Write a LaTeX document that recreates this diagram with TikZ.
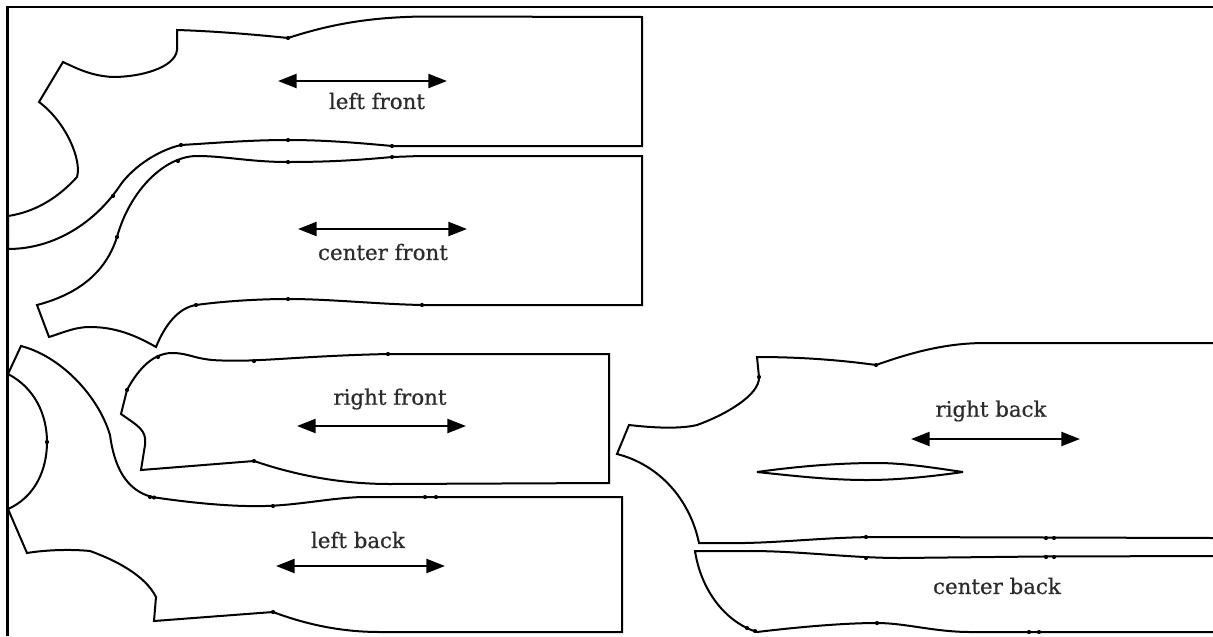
\documentclass[tikz,border=0pt]{standalone}
\usepackage{fontspec}
\setmainfont[RawFeature={embolden=0.6}]{DejaVu Serif}
\definecolor{labelgrey}{HTML}{2b2b2b}
\usetikzlibrary{arrows.meta}
\tikzset{
  x=0.75pt,y=-0.75pt,
  piece/.style={line width=1.5pt,line join=miter,miter limit=6,black},
  frameline/.style={line width=1.7pt,black},
  grain/.style={line width=1.7pt,black,{Triangle[length=14pt,width=10.5pt]}-{Triangle[length=14pt,width=10.5pt]}},
  piecelabel/.style={font=\fontsize{16pt}{18pt}\selectfont,text=labelgrey,inner sep=0pt,anchor=center},
}
\newcommand{\tickdots}[1]{\foreach \p in {#1}{\fill[black] \p circle (1.55pt);}}
\begin{document}
\begin{tikzpicture}
\useasboundingbox (0,0) rectangle (1213,636);
\fill[white] (0,0) rectangle (1213,636);
% frame
\coordinate (ftr) at (1213,7);
\coordinate (ftl) at (7.5,7);
\coordinate (fbl) at (7.5,636);
\draw[frameline] (ftr) -- (ftl) -- (fbl);
% left front
\draw[piece] (177,30) .. controls (210,31) and (250,34) .. (288,38)
 .. controls (325,26) and (365,17) .. (425,16.5)
 -- (642,17) -- (642,146) -- (392,146)
 .. controls (360,143) and (325,140) .. (288,140)
 .. controls (250,140) and (215,143) .. (181,145)
 .. controls (155,151) and (130,170) .. (119,187)
 .. controls (95,222) and (55,249) .. (8,249)
 -- (8,216)
 .. controls (35,212) and (58,198) .. (77,177)
 .. controls (82,160) and (66,122) .. (39,102)
 -- (63,62)
 .. controls (78,69) and (92,76) .. (113,77)
 .. controls (140,77) and (175,68) .. (177,50)
 -- cycle;
% center front
\draw[piece] (642,156) -- (420,156) -- (392,157)
 .. controls (360,160) and (330,162) .. (288,162)
 .. controls (250,162) and (225,156) .. (197,156)
 .. controls (165,156) and (130,190) .. (117,237)
 .. controls (105,275) and (75,295) .. (37,305)
 -- (49,337)
 .. controls (65,332) and (75,327) .. (90,327)
 .. controls (115,327) and (135,335) .. (156,347)
 .. controls (165,325) and (178,308) .. (196,305)
 .. controls (225,301) and (260,299) .. (288,299)
 .. controls (330,299) and (375,304) .. (422,305)
 -- (642,305) -- cycle;
% right front
\draw[piece] (121,414) -- (127,390)
 .. controls (135,375) and (150,353) .. (172,353)
 .. controls (190,353) and (195,360) .. (222,360.5)
 .. controls (260,362) and (300,356) .. (388,354)
 -- (609,354) -- (609,483) -- (390,484)
 .. controls (340,484) and (295,475) .. (254,461)
 -- (141,470) -- (145,445)
 .. controls (147,430) and (138,426) .. (121,414)
 -- cycle;
% left back
\draw[piece] (21,346) .. controls (60,356) and (98,395) .. (110,435)
 .. controls (114,465) and (125,490) .. (152,497)
 .. controls (185,502) and (230,507) .. (265,506)
 .. controls (300,505) and (330,498) .. (362,497)
 -- (622,497) -- (622,632) -- (380,632)
 .. controls (340,632) and (305,624) .. (273,612)
 -- (154,621) -- (156,597)
 .. controls (145,575) and (115,560) .. (90,551)
 .. controls (70,549) and (45,550) .. (27,553)
 -- (8,509)
 .. controls (35,497) and (47,470) .. (47,442)
 .. controls (47,415) and (35,388) .. (8,374)
 -- cycle;
% right back
\draw[piece] (1213,343) -- (985,343)
 .. controls (945,343) and (910,353) .. (876,365)
 .. controls (840,360) and (800,357) .. (757,357)
 -- (759,377)
 .. controls (760,395) and (725,415) .. (697,425)
 .. controls (680,429) and (655,428) .. (629,425)
 -- (617,454)
 .. controls (660,465) and (690,500) .. (699,543)
 -- (745,543)
 .. controls (790,542) and (830,537) .. (880,537)
 -- (1213,538);
% dart
\draw[piece] (757,472) .. controls (800,466) and (840,463) .. (877,463)
 .. controls (905,463) and (935,468) .. (963,472)
 .. controls (935,476) and (900,480) .. (867,480)
 .. controls (830,480) and (795,476) .. (757,472) -- cycle;
% center back
\draw[piece] (1213,556) -- (1040,556.5) -- (900,558)
 .. controls (850,558) and (800,551) .. (750,551)
 -- (695,551)
 .. controls (701,590) and (725,622) .. (757,632)
 .. controls (790,628) and (840,623) .. (877,623)
 .. controls (905,623) and (935,632) .. (970,632)
 -- (1213,632);
% small marks
\tickdots{(288,38),(288,140),(392,146),(181,145),(113,196),(288,162),(392,157),(178,161),(117,237),(196,305),(288,299),(422,305),
 (254,361),(158,357),(388,354),(127,390),(254,461),(47,442),(150,497),(154,497.5),(273,506),(273,612),(425,497),(436,497),
 (876,365),(759,377),(866,537),(866,558),(1046,538),(1054,538),(1046,557),(1054,557),(747,628),(755,631),(877,623),(1029,632),(1039,632)}
% grain lines
\coordinate (g1a) at (278,81);  \coordinate (g1b) at (447,81);
\coordinate (g2a) at (298,229); \coordinate (g2b) at (467,229);
\coordinate (g3a) at (297,426); \coordinate (g3b) at (466,426);
\coordinate (g4a) at (276,566); \coordinate (g4b) at (445,566);
\coordinate (g5a) at (911,439); \coordinate (g5b) at (1080,439);
\draw[grain] (g1a) -- (g1b);
\draw[grain] (g2a) -- (g2b);
\draw[grain] (g3a) -- (g3b);
\draw[grain] (g4a) -- (g4b);
\draw[grain] (g5a) -- (g5b);
% labels
\node[piecelabel] (lf) at (377,101) {left front};
\node[piecelabel] (cf) at (383,252) {center front};
\node[piecelabel] (rf) at (390,399) {right front};
\node[piecelabel] (lb) at (358,540) {left back};
\node[piecelabel] (rb) at (991,411) {right back};
\node[piecelabel] (cb) at (997,586) {center back};
\end{tikzpicture}
\end{document}
